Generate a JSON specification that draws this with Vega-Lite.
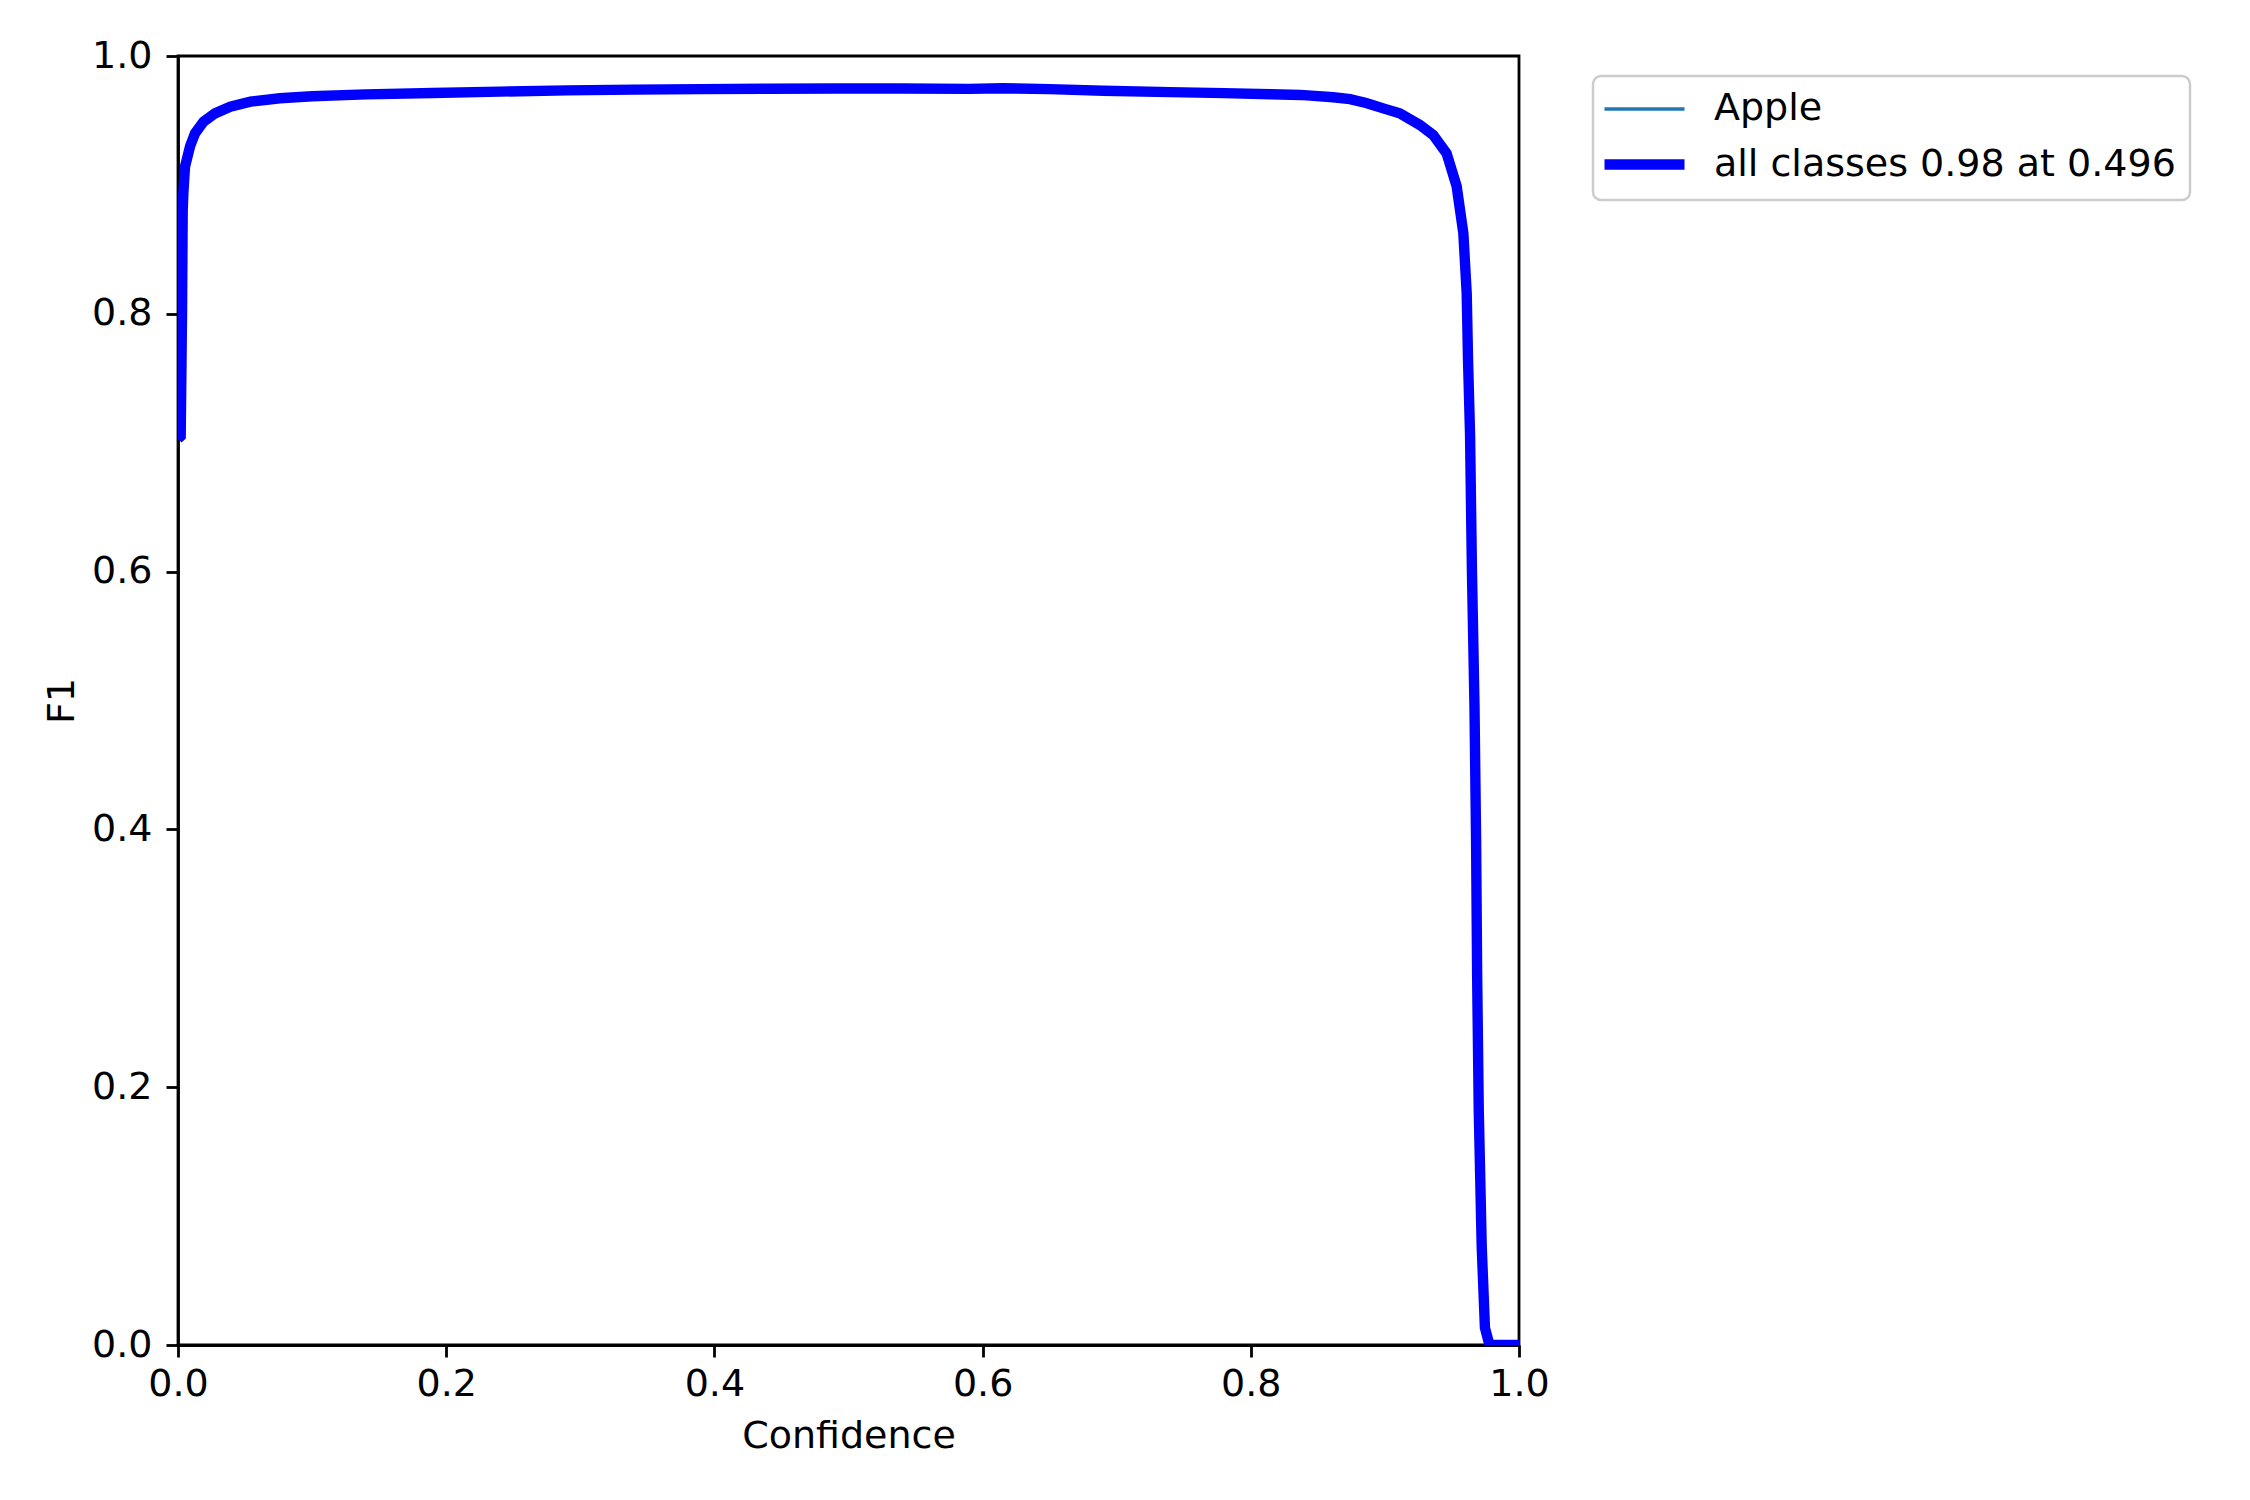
{
  "$schema": "https://vega.github.io/schema/vega-lite/v6.json",
  "width": 1341,
  "height": 1289,
  "autosize": {"type": "none"},
  "padding": {"left": 178, "top": 56, "right": 731, "bottom": 155},
  "background": "white",
  "data": {"values": [
    {"conf": 0.000, "f1": 0.703, "series": "Apple"},
    {"conf": 0.002, "f1": 0.705, "series": "Apple"},
    {"conf": 0.003, "f1": 0.800, "series": "Apple"},
    {"conf": 0.0035, "f1": 0.880, "series": "Apple"},
    {"conf": 0.004, "f1": 0.894, "series": "Apple"},
    {"conf": 0.0052, "f1": 0.914, "series": "Apple"},
    {"conf": 0.009, "f1": 0.930, "series": "Apple"},
    {"conf": 0.0127, "f1": 0.940, "series": "Apple"},
    {"conf": 0.019, "f1": 0.949, "series": "Apple"},
    {"conf": 0.0276, "f1": 0.9555, "series": "Apple"},
    {"conf": 0.039, "f1": 0.9606, "series": "Apple"},
    {"conf": 0.054, "f1": 0.9646, "series": "Apple"},
    {"conf": 0.076, "f1": 0.9672, "series": "Apple"},
    {"conf": 0.10, "f1": 0.9688, "series": "Apple"},
    {"conf": 0.14, "f1": 0.9702, "series": "Apple"},
    {"conf": 0.19, "f1": 0.9713, "series": "Apple"},
    {"conf": 0.24, "f1": 0.9724, "series": "Apple"},
    {"conf": 0.29, "f1": 0.9733, "series": "Apple"},
    {"conf": 0.34, "f1": 0.9739, "series": "Apple"},
    {"conf": 0.39, "f1": 0.9743, "series": "Apple"},
    {"conf": 0.44, "f1": 0.9746, "series": "Apple"},
    {"conf": 0.49, "f1": 0.9748, "series": "Apple"},
    {"conf": 0.54, "f1": 0.9748, "series": "Apple"},
    {"conf": 0.59, "f1": 0.9745, "series": "Apple"},
    {"conf": 0.615, "f1": 0.975, "series": "Apple"},
    {"conf": 0.65, "f1": 0.9743, "series": "Apple"},
    {"conf": 0.69, "f1": 0.973, "series": "Apple"},
    {"conf": 0.74, "f1": 0.972, "series": "Apple"},
    {"conf": 0.78, "f1": 0.9712, "series": "Apple"},
    {"conf": 0.815, "f1": 0.9703, "series": "Apple"},
    {"conf": 0.837, "f1": 0.9698, "series": "Apple"},
    {"conf": 0.8615, "f1": 0.968, "series": "Apple"},
    {"conf": 0.874, "f1": 0.9665, "series": "Apple"},
    {"conf": 0.886, "f1": 0.9635, "series": "Apple"},
    {"conf": 0.90, "f1": 0.959, "series": "Apple"},
    {"conf": 0.911, "f1": 0.9555, "series": "Apple"},
    {"conf": 0.926, "f1": 0.9465, "series": "Apple"},
    {"conf": 0.936, "f1": 0.9387, "series": "Apple"},
    {"conf": 0.946, "f1": 0.9245, "series": "Apple"},
    {"conf": 0.9535, "f1": 0.899, "series": "Apple"},
    {"conf": 0.9585, "f1": 0.8624, "series": "Apple"},
    {"conf": 0.961, "f1": 0.816, "series": "Apple"},
    {"conf": 0.962, "f1": 0.764, "series": "Apple"},
    {"conf": 0.9635, "f1": 0.706, "series": "Apple"},
    {"conf": 0.9649, "f1": 0.601, "series": "Apple"},
    {"conf": 0.9668, "f1": 0.496, "series": "Apple"},
    {"conf": 0.968, "f1": 0.391, "series": "Apple"},
    {"conf": 0.9688, "f1": 0.286, "series": "Apple"},
    {"conf": 0.970, "f1": 0.1815, "series": "Apple"},
    {"conf": 0.9722, "f1": 0.0763, "series": "Apple"},
    {"conf": 0.9746, "f1": 0.0134, "series": "Apple"},
    {"conf": 0.978, "f1": 0.0, "series": "Apple"},
    {"conf": 1.0, "f1": 0.0, "series": "Apple"},
    {"conf": 0.000, "f1": 0.703, "series": "all classes 0.98 at 0.496"},
    {"conf": 0.002, "f1": 0.705, "series": "all classes 0.98 at 0.496"},
    {"conf": 0.003, "f1": 0.800, "series": "all classes 0.98 at 0.496"},
    {"conf": 0.0035, "f1": 0.880, "series": "all classes 0.98 at 0.496"},
    {"conf": 0.004, "f1": 0.894, "series": "all classes 0.98 at 0.496"},
    {"conf": 0.0052, "f1": 0.914, "series": "all classes 0.98 at 0.496"},
    {"conf": 0.009, "f1": 0.930, "series": "all classes 0.98 at 0.496"},
    {"conf": 0.0127, "f1": 0.940, "series": "all classes 0.98 at 0.496"},
    {"conf": 0.019, "f1": 0.949, "series": "all classes 0.98 at 0.496"},
    {"conf": 0.0276, "f1": 0.9555, "series": "all classes 0.98 at 0.496"},
    {"conf": 0.039, "f1": 0.9606, "series": "all classes 0.98 at 0.496"},
    {"conf": 0.054, "f1": 0.9646, "series": "all classes 0.98 at 0.496"},
    {"conf": 0.076, "f1": 0.9672, "series": "all classes 0.98 at 0.496"},
    {"conf": 0.10, "f1": 0.9688, "series": "all classes 0.98 at 0.496"},
    {"conf": 0.14, "f1": 0.9702, "series": "all classes 0.98 at 0.496"},
    {"conf": 0.19, "f1": 0.9713, "series": "all classes 0.98 at 0.496"},
    {"conf": 0.24, "f1": 0.9724, "series": "all classes 0.98 at 0.496"},
    {"conf": 0.29, "f1": 0.9733, "series": "all classes 0.98 at 0.496"},
    {"conf": 0.34, "f1": 0.9739, "series": "all classes 0.98 at 0.496"},
    {"conf": 0.39, "f1": 0.9743, "series": "all classes 0.98 at 0.496"},
    {"conf": 0.44, "f1": 0.9746, "series": "all classes 0.98 at 0.496"},
    {"conf": 0.49, "f1": 0.9748, "series": "all classes 0.98 at 0.496"},
    {"conf": 0.54, "f1": 0.9748, "series": "all classes 0.98 at 0.496"},
    {"conf": 0.59, "f1": 0.9745, "series": "all classes 0.98 at 0.496"},
    {"conf": 0.615, "f1": 0.975, "series": "all classes 0.98 at 0.496"},
    {"conf": 0.65, "f1": 0.9743, "series": "all classes 0.98 at 0.496"},
    {"conf": 0.69, "f1": 0.973, "series": "all classes 0.98 at 0.496"},
    {"conf": 0.74, "f1": 0.972, "series": "all classes 0.98 at 0.496"},
    {"conf": 0.78, "f1": 0.9712, "series": "all classes 0.98 at 0.496"},
    {"conf": 0.815, "f1": 0.9703, "series": "all classes 0.98 at 0.496"},
    {"conf": 0.837, "f1": 0.9698, "series": "all classes 0.98 at 0.496"},
    {"conf": 0.8615, "f1": 0.968, "series": "all classes 0.98 at 0.496"},
    {"conf": 0.874, "f1": 0.9665, "series": "all classes 0.98 at 0.496"},
    {"conf": 0.886, "f1": 0.9635, "series": "all classes 0.98 at 0.496"},
    {"conf": 0.90, "f1": 0.959, "series": "all classes 0.98 at 0.496"},
    {"conf": 0.911, "f1": 0.9555, "series": "all classes 0.98 at 0.496"},
    {"conf": 0.926, "f1": 0.9465, "series": "all classes 0.98 at 0.496"},
    {"conf": 0.936, "f1": 0.9387, "series": "all classes 0.98 at 0.496"},
    {"conf": 0.946, "f1": 0.9245, "series": "all classes 0.98 at 0.496"},
    {"conf": 0.9535, "f1": 0.899, "series": "all classes 0.98 at 0.496"},
    {"conf": 0.9585, "f1": 0.8624, "series": "all classes 0.98 at 0.496"},
    {"conf": 0.961, "f1": 0.816, "series": "all classes 0.98 at 0.496"},
    {"conf": 0.962, "f1": 0.764, "series": "all classes 0.98 at 0.496"},
    {"conf": 0.9635, "f1": 0.706, "series": "all classes 0.98 at 0.496"},
    {"conf": 0.9649, "f1": 0.601, "series": "all classes 0.98 at 0.496"},
    {"conf": 0.9668, "f1": 0.496, "series": "all classes 0.98 at 0.496"},
    {"conf": 0.968, "f1": 0.391, "series": "all classes 0.98 at 0.496"},
    {"conf": 0.9688, "f1": 0.286, "series": "all classes 0.98 at 0.496"},
    {"conf": 0.970, "f1": 0.1815, "series": "all classes 0.98 at 0.496"},
    {"conf": 0.9722, "f1": 0.0763, "series": "all classes 0.98 at 0.496"},
    {"conf": 0.9746, "f1": 0.0134, "series": "all classes 0.98 at 0.496"},
    {"conf": 0.978, "f1": 0.0, "series": "all classes 0.98 at 0.496"},
    {"conf": 1.0, "f1": 0.0, "series": "all classes 0.98 at 0.496"}
  ]},
  "mark": {"type": "line", "clip": true, "interpolate": "linear"},
  "encoding": {
    "x": {
      "field": "conf", "type": "quantitative", "title": "Confidence",
      "scale": {"domain": [0, 1], "nice": false, "zero": false},
      "axis": {"values": [0, 0.2, 0.4, 0.6, 0.8, 1.0], "format": ".1f"}
    },
    "y": {
      "field": "f1", "type": "quantitative", "title": "F1",
      "scale": {"domain": [0, 1], "nice": false, "zero": false},
      "axis": {"values": [0, 0.2, 0.4, 0.6, 0.8, 1.0], "format": ".1f"}
    },
    "color": {
      "field": "series", "type": "nominal", "title": null,
      "scale": {"domain": ["Apple", "all classes 0.98 at 0.496"], "range": ["#1f77b4", "#0000ff"]}
    },
    "strokeWidth": {
      "field": "series", "type": "nominal", "title": null,
      "scale": {"domain": ["Apple", "all classes 0.98 at 0.496"], "range": [3.5, 10.4]}
    },
    "order": {"field": "conf", "type": "quantitative"}
  },
  "config": {
    "font": "DejaVu Sans",
    "view": {"stroke": "black", "strokeWidth": 2.8},
    "axis": {
      "grid": false,
      "domainColor": "black", "domainWidth": 2.8,
      "tickColor": "black", "tickWidth": 2.8, "tickSize": 12,
      "labelFont": "DejaVu Sans", "labelFontSize": 38, "labelColor": "black",
      "titleFont": "DejaVu Sans", "titleFontSize": 38, "titleColor": "black", "titleFontWeight": "normal",
      "labelFlush": false, "labelOverlap": false
    },
    "axisX": {"labelPadding": 8, "titlePadding": 14},
    "axisY": {"labelPadding": 14, "titlePadding": 10},
    "legend": {
      "orient": "none", "legendX": 1415, "legendY": 20,
      "symbolType": "M-1.5,0H3.5", "symbolSize": 1024,
      "labelOffset": 64, "labelLimit": 0, "labelFont": "DejaVu Sans", "labelFontSize": 38, "labelColor": "black",
      "rowPadding": 15, "padding": 14,
      "strokeColor": "#cccccc", "strokeWidth": 2.5, "cornerRadius": 8, "fillColor": "white"
    }
  }
}
